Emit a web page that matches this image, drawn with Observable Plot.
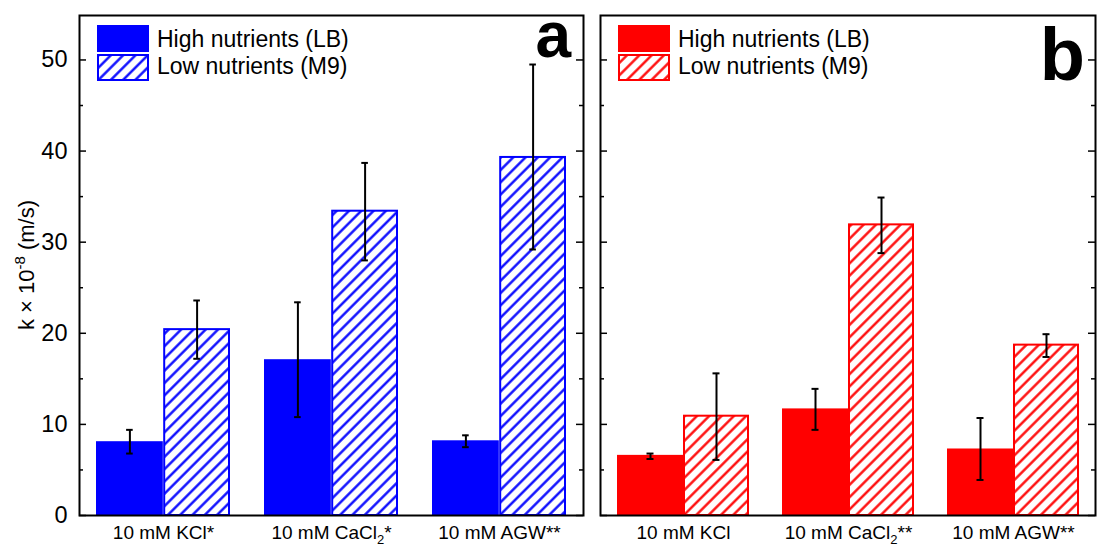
<!DOCTYPE html>
<html><head><meta charset="utf-8">
<script src="https://cdn.jsdelivr.net/npm/d3@7"></script>
<script src="https://cdn.jsdelivr.net/npm/@observablehq/plot@0.6"></script>
<style>
body{margin:0;background:#fff}
#wrap{position:relative;width:1097px;height:546px;background:#fff;overflow:hidden}
#wrap svg{position:absolute;top:0}
</style>
</head><body><div id="wrap"></div>
<script>
// ---- data ----
const seriesNames = ["High nutrients (LB)", "Low nutrients (M9)"];

const categoriesA = ["10 mM KCl*", "10 mM CaCl₂*", "10 mM AGW**"];
const highA   = [8.1, 17.1, 8.2];
const highLoA = [6.8, 10.8, 7.5];
const highHiA = [9.4, 23.4, 8.8];
const lowA    = [20.4, 33.4, 39.3];
const lowLoA  = [17.2, 28.0, 29.2];
const lowHiA  = [23.6, 38.7, 49.5];

const categoriesB = ["10 mM KCl", "10 mM CaCl₂**", "10 mM AGW**"];
const highB   = [6.6, 11.7, 7.3];
const highLoB = [6.2, 9.4, 3.9];
const highHiB = [6.8, 13.9, 10.7];
const lowB    = [10.9, 31.9, 18.7];
const lowLoB  = [6.1, 28.8, 17.4];
const lowHiB  = [15.6, 34.9, 19.9];

const yTicks = [0, 10, 20, 30, 40, 50];
const yMinorTicks = [5, 15, 25, 35, 45];
const yMax = 54.88;

const FONT = "'Liberation Sans', Arial, Helvetica, sans-serif";

function panel(o) {
  const plotW = o.width - o.marginLeft - o.marginRight;
  const bw = plotW / 3 * 0.8;
  const q = bw / 4;
  const rowsHigh = o.cats.map((c, i) => ({cat: c, value: o.high[i], lo: o.highLo[i], hi: o.highHi[i]}));
  const rowsLow = o.cats.map((c, i) => ({cat: c, value: o.low[i], lo: o.lowLo[i], hi: o.lowHi[i]}));
  const marks = [
    Plot.barY(rowsHigh, {x: "cat", y: "value", fill: o.color, insetRight: bw / 2}),
    Plot.barY(rowsLow, {x: "cat", y: "value", fill: `url(#${o.hatchId})`, stroke: o.color, strokeWidth: 2, insetLeft: bw / 2 + 1, insetRight: 1}),
    Plot.ruleX(rowsHigh, {x: "cat", y1: "lo", y2: "hi", dx: -q, stroke: "black", strokeWidth: 2}),
    Plot.ruleX(rowsLow, {x: "cat", y1: "lo", y2: "hi", dx: q, stroke: "black", strokeWidth: 2}),
    Plot.tickY(rowsHigh, {x: "cat", y: "hi", insetLeft: q - 3.5, insetRight: bw - q - 3.5, stroke: "black", strokeWidth: 2}),
    Plot.tickY(rowsHigh, {x: "cat", y: "lo", insetLeft: q - 3.5, insetRight: bw - q - 3.5, stroke: "black", strokeWidth: 2}),
    Plot.tickY(rowsLow, {x: "cat", y: "hi", insetLeft: 3 * q - 3.5, insetRight: q - 3.5, stroke: "black", strokeWidth: 2}),
    Plot.tickY(rowsLow, {x: "cat", y: "lo", insetLeft: 3 * q - 3.5, insetRight: q - 3.5, stroke: "black", strokeWidth: 2}),
    // inward ticks left and right
    Plot.tickY(yTicks, {y: d => d, insetRight: plotW - 7, stroke: "black", strokeWidth: 1.5}),
    Plot.tickY(yMinorTicks, {y: d => d, insetRight: plotW - 4, stroke: "black", strokeWidth: 1.5}),
    Plot.tickY(yTicks, {y: d => d, insetLeft: plotW - 7, stroke: "black", strokeWidth: 1.5}),
    Plot.tickY(yMinorTicks, {y: d => d, insetLeft: plotW - 4, stroke: "black", strokeWidth: 1.5}),
    Plot.frame({stroke: "black", strokeWidth: 2}),
    Plot.axisX({tickSize: 0, tickPadding: 10, fontSize: 19, label: null})
  ];
  if (o.showY) marks.push(Plot.axisY(yTicks, {anchor: "left", tickSize: 0, tickPadding: 12, fontSize: 23.5, label: null}));
  const svg = Plot.plot({
    width: o.width, height: 546,
    marginLeft: o.marginLeft, marginRight: o.marginRight, marginTop: 15, marginBottom: 31,
    x: {domain: o.cats, paddingInner: 0.2, paddingOuter: 0.1, axis: null},
    y: {domain: [0, yMax], axis: null},
    style: {fontFamily: FONT, background: "white", color: "black", overflow: "visible"},
    marks
  });
  const s = d3.select(svg);
  const pat = s.insert("defs", ":first-child").append("pattern")
    .attr("id", o.hatchId).attr("patternUnits", "userSpaceOnUse")
    .attr("width", 8.7).attr("height", 8.7).attr("patternTransform", "rotate(45)");
  pat.append("rect").attr("width", 8.7).attr("height", 8.7).attr("fill", "white");
  pat.append("line").attr("x1", 4.35).attr("x2", 4.35).attr("y1", -1).attr("y2", 9.7)
    .attr("stroke", o.color).attr("stroke-width", 2.3);

  // subscript 2 in tick labels
  s.selectAll('g[aria-label="x-axis tick label"] text').each(function () {
    const t = this.textContent;
    if (t.includes("₂")) {
      const [a, b] = t.split("₂");
      const el = d3.select(this);
      el.text(null);
      el.append("tspan").text(a);
      el.append("tspan").attr("dy", 5).attr("font-size", 13).text("2");
      el.append("tspan").attr("dy", -5).text(b);
    }
  });

  // legend
  const lx = o.legendX;
  s.append("rect").attr("x", lx).attr("y", 25).attr("width", 52).attr("height", 27).attr("fill", o.color);
  s.append("rect").attr("x", lx + 1).attr("y", 55).attr("width", 50).attr("height", 25)
    .attr("fill", `url(#${o.hatchId})`).attr("stroke", o.color).attr("stroke-width", 2);
  s.append("text").attr("x", lx + 60).attr("y", 47).attr("text-anchor", "start").attr("font-size", 23).attr("font-family", FONT).attr("fill", "black").text(seriesNames[0]);
  s.append("text").attr("x", lx + 60).attr("y", 74).attr("text-anchor", "start").attr("font-size", 23).attr("font-family", FONT).attr("fill", "black").text(seriesNames[1]);

  // panel letter
  s.append("text").attr("x", o.letterX).attr("y", o.letterY).attr("text-anchor", "end")
    .attr("font-size", o.letterSize).attr("font-weight", "bold").attr("font-family", FONT).attr("fill", "black").text(o.letter);

  if (o.showY) {
    const yl = s.append("text").attr("transform", "translate(34,265) rotate(-90)")
      .attr("text-anchor", "middle").attr("font-size", 22).attr("font-family", FONT).attr("fill", "black");
    yl.append("tspan").text("k × 10");
    yl.append("tspan").attr("dy", -9).attr("font-size", 15).text("-8");
    yl.append("tspan").attr("dy", 9).text(" (m/s)");
  }
  svg.style.left = o.left + "px";
  return svg;
}

const wrap = document.getElementById("wrap");
wrap.appendChild(panel({
  cats: categoriesA, high: highA, highLo: highLoA, highHi: highHiA,
  low: lowA, lowLo: lowLoA, lowHi: lowHiA,
  color: "#0000ff", hatchId: "hatchBlue", letter: "a", letterSize: 64,
  width: 590, marginLeft: 79, marginRight: 7, showY: true, left: 0,
  legendX: 97, letterX: 571, letterY: 57
}));
wrap.appendChild(panel({
  cats: categoriesB, high: highB, highLo: highLoB, highHi: highHiB,
  low: lowB, lowLo: lowLoB, lowHi: lowHiB,
  color: "#ff0000", hatchId: "hatchRed", letter: "b", letterSize: 74,
  width: 507, marginLeft: 10, marginRight: 2, showY: false, left: 590,
  legendX: 28, letterX: 495, letterY: 80
}));
</script>
</body></html>
